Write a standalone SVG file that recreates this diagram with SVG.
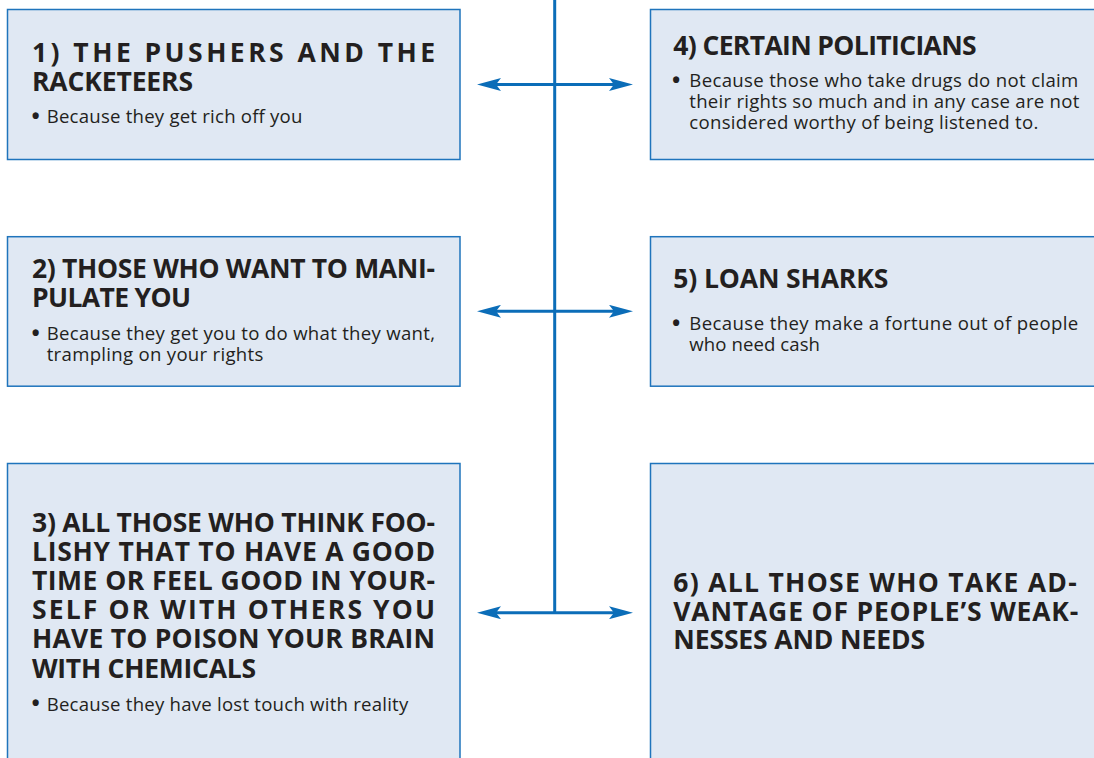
<svg xmlns="http://www.w3.org/2000/svg" width="1094" height="758" viewBox="0 0 1094 758">
  <defs>
    <style>
      .box { fill: #e0e8f3; stroke: #1f74bc; stroke-width: 1.5; }
      .title { font-family: "Open Sans", "Noto Sans", "DejaVu Sans", sans-serif; font-weight: 700; font-size: 26.5px; fill: #231f20; }
      .body { font-family: "Open Sans", "Noto Sans", "DejaVu Sans", sans-serif; font-weight: 400; font-size: 18.6px; fill: #231f20; }
      .dot { font-family: "Open Sans", "Noto Sans", "DejaVu Sans", sans-serif; font-weight: 700; font-size: 22px; fill: #231f20; }
      .wire { fill: none; stroke: #0b6db8; stroke-width: 3; }
    </style>
    <marker id="barb" viewBox="0 0 24 13" refX="13" refY="6.5" markerWidth="24" markerHeight="13" markerUnits="userSpaceOnUse" orient="auto-start-reverse">
      <path d="M0,0 L24,6.5 L0,13 L5,6.5 Z" fill="#0b6db8"/>
    </marker>
  </defs>

  <rect width="1094" height="758" fill="#ffffff"/>

  <!-- connectors: central spine with a double arrow at each row -->
  <g id="connectors">
    <path class="wire" d="M554.7,0 V612.7"/>
    <path class="wire" d="M488,84.5 H622" marker-start="url(#barb)" marker-end="url(#barb)"/>
    <path class="wire" d="M488,311.3 H622" marker-start="url(#barb)" marker-end="url(#barb)"/>
    <path class="wire" d="M488,612.7 H622" marker-start="url(#barb)" marker-end="url(#barb)"/>
  </g>

  <!-- left column -->
  <g id="pushers">
    <rect class="box" x="7.5" y="9.5" width="452.5" height="150"/>
    <text class="title" x="32" y="61.7" textLength="403" lengthAdjust="spacing">1) THE PUSHERS AND THE</text>
    <text class="title" x="32" y="90.7" textLength="161" lengthAdjust="spacing">RACKETEERS</text>
    <text class="dot" x="31.5" y="124">•</text>
    <text class="body" x="46.7" y="123.3" textLength="255.6" lengthAdjust="spacing">Because they get rich off you</text>
  </g>

  <g id="manipulators">
    <rect class="box" x="7.5" y="236.7" width="452.5" height="149.5"/>
    <text class="title" x="32" y="278.3" textLength="403" lengthAdjust="spacing">2) THOSE WHO WANT TO MANI-</text>
    <text class="title" x="32" y="306.7" textLength="159" lengthAdjust="spacing">PULATE YOU</text>
    <text class="dot" x="31.5" y="340.7">•</text>
    <text class="body" x="46.7" y="340" textLength="388.3" lengthAdjust="spacing">Because they get you to do what they want,</text>
    <text class="body" x="46.7" y="360.5" textLength="216.6" lengthAdjust="spacing">trampling on your rights</text>
  </g>

  <g id="chemicals">
    <rect class="box" x="7.5" y="463.5" width="452.5" height="310"/>
    <text class="title" x="32" y="531.7" textLength="403" lengthAdjust="spacing">3) ALL THOSE WHO THINK FOO-</text>
    <text class="title" x="32" y="560.7" textLength="403" lengthAdjust="spacing">LISHY THAT TO HAVE A GOOD</text>
    <text class="title" x="32" y="589.5" textLength="403" lengthAdjust="spacing">TIME OR FEEL GOOD IN YOUR-</text>
    <text class="title" x="32" y="619" textLength="403" lengthAdjust="spacing">SELF OR WITH OTHERS YOU</text>
    <text class="title" x="32" y="648.3" textLength="403" lengthAdjust="spacing">HAVE TO POISON YOUR BRAIN</text>
    <text class="title" x="32" y="677.5" textLength="224" lengthAdjust="spacing">WITH CHEMICALS</text>
    <text class="dot" x="31.5" y="711.4">•</text>
    <text class="body" x="46.7" y="710.7" textLength="361.6" lengthAdjust="spacing">Because they have lost touch with reality</text>
  </g>

  <!-- right column -->
  <g id="politicians">
    <rect class="box" x="650.5" y="9.5" width="460" height="150"/>
    <text class="title" x="673.3" y="55" textLength="303.4" lengthAdjust="spacing">4) CERTAIN POLITICIANS</text>
    <text class="dot" x="672" y="88">•</text>
    <text class="body" x="689.3" y="87.3" textLength="389" lengthAdjust="spacing">Because those who take drugs do not claim</text>
    <text class="body" x="689.3" y="108.3" textLength="390" lengthAdjust="spacing">their rights so much and in any case are not</text>
    <text class="body" x="689.3" y="129" textLength="349" lengthAdjust="spacing">considered worthy of being listened to.</text>
  </g>

  <g id="loan-sharks">
    <rect class="box" x="650.5" y="236.7" width="460" height="149.5"/>
    <text class="title" x="673.3" y="287.7" textLength="215" lengthAdjust="spacing">5) LOAN SHARKS</text>
    <text class="dot" x="672" y="330.7">•</text>
    <text class="body" x="689.3" y="330" textLength="389" lengthAdjust="spacing">Because they make a fortune out of people</text>
    <text class="body" x="689.3" y="351" textLength="130.7" lengthAdjust="spacing">who need cash</text>
  </g>

  <g id="exploiters">
    <rect class="box" x="650.5" y="463.5" width="460" height="310"/>
    <text class="title" x="673.3" y="591.7" textLength="403.4" lengthAdjust="spacing">6) ALL THOSE WHO TAKE AD-</text>
    <text class="title" x="673.3" y="620.5" textLength="405" lengthAdjust="spacing">VANTAGE OF PEOPLE’S WEAK-</text>
    <text class="title" x="673.3" y="649.3" textLength="251.7" lengthAdjust="spacing">NESSES AND NEEDS</text>
  </g>
</svg>
